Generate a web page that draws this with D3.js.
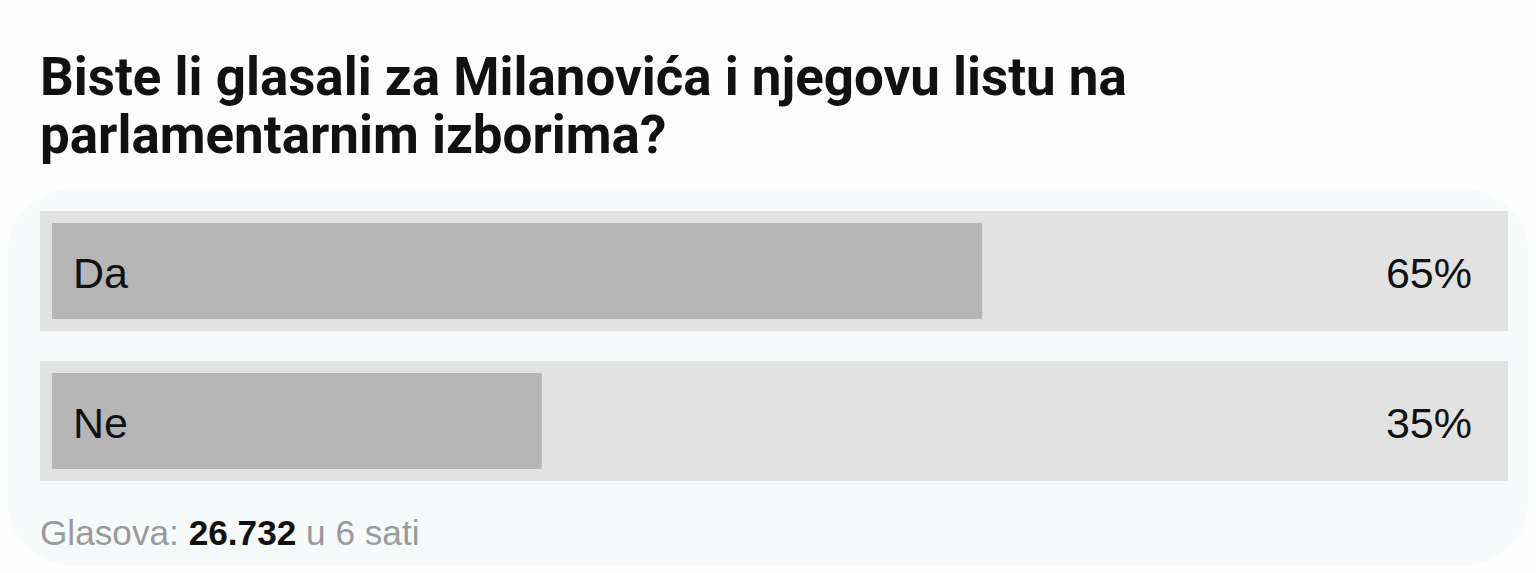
<!DOCTYPE html>
<html>
<head>
<meta charset="utf-8">
<script src="https://cdn.jsdelivr.net/npm/d3@7"></script>
<style>
  html, body { margin: 0; padding: 0; background: #fdfdfd; }
  svg { display: block; }
</style>
</head>
<body>
<svg id="chart" width="1536" height="573"></svg>
<script>
const titleLines = ["Biste li glasali za Milanovića i njegovu listu na", "parlamentarnim izborima?"];
const categories = ["Da", "Ne"];
const percents = [65, 35];
const footerPrefix = "Glasova: ";
const footerVotes = "26.732";
const footerSuffix = " u 6 sati";

const svg = d3.select("#chart");

// faint background panel
svg.append("rect")
  .attr("x", 8).attr("y", 188).attr("width", 1520).attr("height", 378)
  .attr("rx", 70).attr("ry", 60)
  .attr("fill", "#f7fafb");

// title
const title = svg.append("text")
  .attr("font-family", "Roboto, sans-serif")
  .attr("font-weight", 700)
  .attr("font-size", 52.9)
  .attr("fill", "#111111");
titleLines.forEach((t, i) => {
  title.append("tspan").attr("x", 40).attr("y", 95 + i * 58).text(t);
});

const rowLeft = 40, rowWidth = 1468, pad = 12;
const x = d3.scaleLinear().domain([0, 100]).range([0, rowWidth]);
const y = d3.scaleBand().domain(categories).range([211, 481]).paddingInner(0.2).paddingOuter(0);

const data = categories.map((c, i) => ({ cat: c, pct: percents[i] }));

const rows = svg.append("g").selectAll("g").data(data).join("g")
  .attr("transform", d => `translate(${rowLeft},${y(d.cat)})`);

rows.append("rect")
  .attr("width", x(100)).attr("height", y.bandwidth())
  .attr("fill", "#e2e2e2");

rows.append("rect")
  .attr("x", pad).attr("y", pad)
  .attr("width", d => x(d.pct) - 2 * pad)
  .attr("height", y.bandwidth() - 2 * pad)
  .attr("fill", "#b5b5b5");

rows.append("text")
  .attr("x", 33).attr("y", y.bandwidth() / 2 + 17)
  .attr("font-family", "'Liberation Sans', Arial, sans-serif")
  .attr("font-size", 43)
  .attr("fill", "#111")
  .text(d => d.cat);

rows.append("text")
  .attr("x", x(100) - 36).attr("y", y.bandwidth() / 2 + 17)
  .attr("text-anchor", "end")
  .attr("font-family", "'Liberation Sans', Arial, sans-serif")
  .attr("font-size", 43)
  .attr("fill", "#111")
  .text(d => d.pct + "%");

const footer = svg.append("text")
  .attr("x", 40).attr("y", 545)
  .attr("font-family", "'Liberation Sans', Arial, sans-serif")
  .attr("font-size", 35.2)
  .attr("fill", "#9a9a9a");
footer.append("tspan").text(footerPrefix);
footer.append("tspan").attr("font-weight", 700).attr("fill", "#111").text(footerVotes);
footer.append("tspan").text(footerSuffix);
</script>
</body>
</html>
